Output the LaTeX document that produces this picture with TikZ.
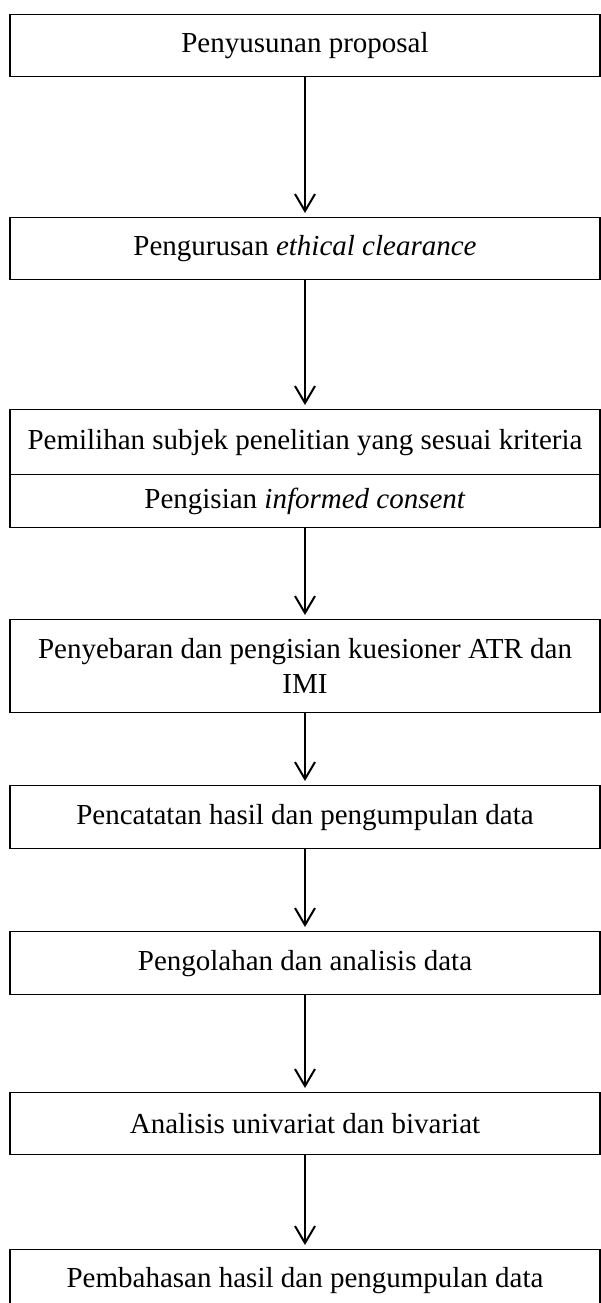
\documentclass[tikz,border=0pt]{standalone}
\usepackage{fontspec}
\setmainfont{Liberation Serif}
\usetikzlibrary{arrows.meta}
\begin{document}
\begin{tikzpicture}[x=1pt,y=-1pt,
  box/.style={draw,line width=1.3pt,minimum width=590pt,inner sep=0pt,
    font=\fontsize{29}{35}\selectfont,align=center,anchor=north},
  flow/.style={line width=2pt,-{Straight Barb[length=17pt,width=20pt,line width=2pt]},shorten >=4pt}]
\useasboundingbox (0,0) rectangle (601,1303);
\clip (0,0) rectangle (601,1303);
\fill[white] (0,0) rectangle (601,1303);
\node[box,minimum height=62pt] (b1) at (305,14) {Penyusunan proposal};
\node[box,minimum height=62pt] (b2) at (305,217) {Pengurusan \textit{ethical clearance}};
\node[box,minimum height=65pt] (b3a) at (305,409) {Pemilihan subjek penelitian yang sesuai kriteria};
\node[box,minimum height=53pt] (b3b) at (305,474) {Pengisian \textit{informed consent}};
\node[box,minimum height=93pt] (b4) at (305,619) {Penyebaran dan pengisian kuesioner ATR dan\\IMI};
\node[box,minimum height=63pt] (b5) at (305,785) {Pencatatan hasil dan pengumpulan data};
\node[box,minimum height=63pt] (b6) at (305,931) {Pengolahan dan analisis data};
\node[box,minimum height=62pt] (b7) at (305,1092) {Analisis univariat dan bivariat};
\node[box,minimum height=62pt] (b8) at (305,1249) {Pembahasan hasil dan pengumpulan data};
\draw[flow] (b1.south) -- (b2.north);
\draw[flow] (b2.south) -- (b3a.north);
\draw[flow] (b3b.south) -- (b4.north);
\draw[flow] (b4.south) -- (b5.north);
\draw[flow] (b5.south) -- (b6.north);
\draw[flow] (b6.south) -- (b7.north);
\draw[flow] (b7.south) -- (b8.north);
\end{tikzpicture}
\end{document}
